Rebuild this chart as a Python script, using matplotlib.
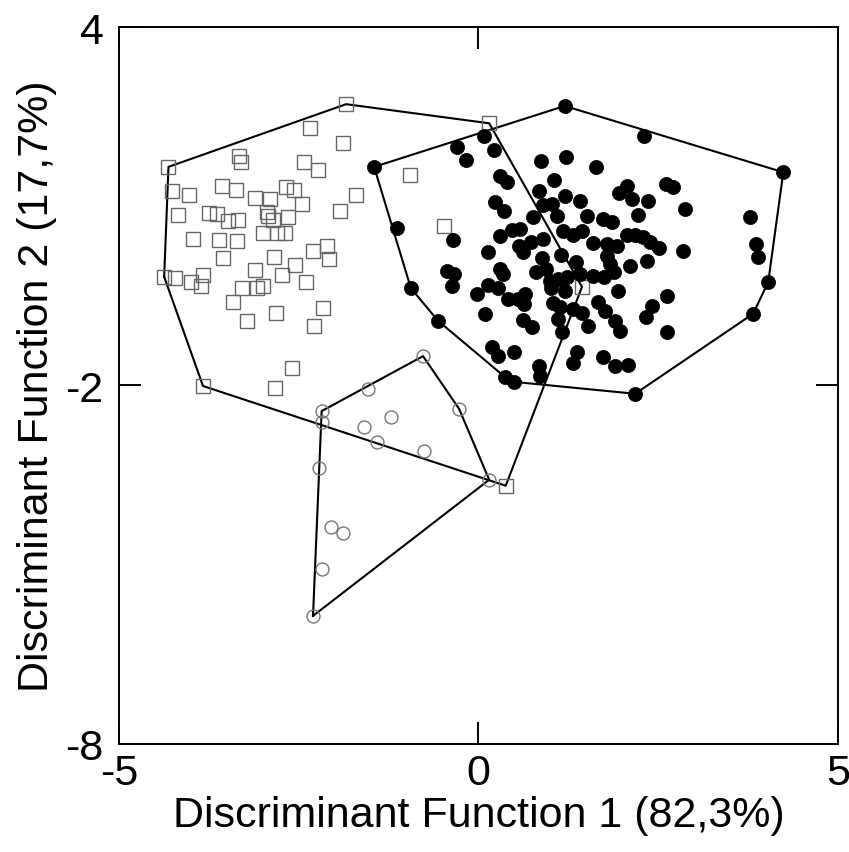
import matplotlib
matplotlib.use('Agg')
import matplotlib.pyplot as plt
import numpy as np

plt.rcParams['font.family'] = ['Liberation Sans', 'DejaVu Sans']
plt.rcParams['axes.unicode_minus'] = False

# Группа 1 - пустые квадраты (DF1, DF2)
sq_x = [-1.84, -2.34, -1.89, -4.31, -3.33, -3.30, -2.43, -2.23, -1.70, -4.26,
        -4.03, -3.57, -3.37, -3.10, -2.90, -2.68, -2.57, -2.46, -1.93, -4.18,
        -3.75, -3.64, -3.48, -3.35, -2.94, -2.93, -2.86, -2.65, -3.97, -3.61,
        -3.36, -3.00, -2.80, -2.69, -3.55, -2.84, -2.55, -2.30, -2.11, -2.08,
        -4.37, -4.22, -4.00, -3.83, -3.86, -3.11, -2.73, -3.29, -3.00, -3.08,
        -2.40, -3.41, -3.22, -2.82, -2.16, -2.29, -2.59, -2.83, -3.83, 0.15,
        -0.95, -0.48, 1.44, 0.38]
sq_y = [2.71, 2.31, 2.06, 1.66, 1.84, 1.74, 1.74, 1.61, 1.19, 1.26,
        1.19, 1.34, 1.27, 1.14, 1.12, 1.32, 1.27, 1.04, 0.92, 0.85,
        0.89, 0.87, 0.75, 0.77, 0.90, 0.84, 0.77, 0.82, 0.45, 0.44,
        0.42, 0.55, 0.55, 0.55, 0.13, 0.15, 0.02, 0.25, 0.34, 0.12,
        -0.18, -0.20, -0.27, -0.15, -0.34, -0.07, -0.15, -0.37, -0.34, -0.37,
        -0.27, -0.60, -0.92, -0.79, -0.70, -1.00, -1.71, -2.04, -2.01, 2.39,
        1.52, 0.67, -0.35, -3.68]

# Группа 2 - пустые кружки
oc_x = [-0.77, -1.54, -2.18, -2.18, -1.22, -1.59, -1.41, -0.27, -0.76, 0.15,
        -2.21, -2.05, -1.89, -2.18, -2.30]
oc_y = [-1.51, -2.06, -2.43, -2.61, -2.53, -2.70, -2.95, -2.39, -3.10, -3.58,
        -3.38, -4.37, -4.47, -5.07, -5.86]

# Группа 3 - закрашенные кружки
fc_x = [-1.45, 1.20, 2.30, 4.24, 4.03, 3.82, 2.18, 0.49, 0.37, -0.56,
        -0.94, -1.13, -0.30, -0.17, 0.08, 0.22, 0.30, 0.40, 0.87, 1.22,
        1.63, 1.05, 0.84, 0.23, 0.36, 0.76, 0.90, 1.02, 1.09, 1.20,
        1.41, 1.18, 1.51, 1.73, 1.86, 2.07, 1.95, 2.14, 2.36, 2.61,
        2.71, 2.87, 2.22, 2.07, 2.18, 2.29, 2.39, 2.51, 2.84, 0.47,
        0.58, 0.56, 0.73, 0.90, 0.88, 1.15, 0.13, 0.30, -0.36, 1.31,
        1.44, 1.59, 1.79, 1.93, 1.79, 2.11, 2.34, 1.36, 1.23, 1.41,
        1.59, 1.75, 1.89, 1.83, 0.80, 0.94, 0.99, 1.01, 1.11, 1.20,
        1.04, 1.13, 1.11, 1.16, 1.31, 1.44, 1.52, 1.66, 1.76, 1.90,
        1.97, 1.94, 2.41, 2.62, 2.33, 2.62, 1.37, 1.31, 1.73, 1.90,
        2.08, -0.44, -0.34, -0.37, -0.02, 0.13, 0.27, 0.30, 0.34, 0.41,
        0.55, 0.65, 0.63, 0.09, 0.62, 0.74, 0.19, 0.27, 0.49, 0.84,
        0.86, 3.78, 3.86, 3.89, 0.62]
fc_y = [1.66, 2.68, 2.18, 1.57, -0.27, -0.80, -2.14, -1.94, -1.86, -0.92,
        -0.37, 0.64, 1.99, 1.77, 2.18, 1.94, 1.51, 1.41, 1.76, 1.82,
        1.66, 1.44, 1.26, 1.07, 0.92, 0.82, 1.02, 1.04, 0.84, 1.17,
        1.09, 0.59, 0.84, 0.79, 0.74, 1.34, 1.22, 1.12, 1.09, 1.37,
        1.32, 0.95, 0.85, 0.52, 0.52, 0.49, 0.40, 0.30, 0.25, 0.60,
        0.62, 0.34, 0.40, 0.45, 0.13, 0.18, 0.23, 0.50, 0.44, 0.52,
        0.59, 0.39, 0.37, 0.34, 0.17, 0.00, 0.08, 0.07, -0.18, -0.13,
        -0.17, -0.18, -0.10, 0.03, -0.10, -0.05, -0.25, -0.37, -0.22, -0.42,
        -0.62, -0.69, -0.89, -1.11, -0.72, -0.79, -1.00, -0.60, -0.75, -0.92,
        -1.09, -0.42, -0.67, -0.50, -0.85, -1.11, -1.44, -1.62, -1.52, -1.67,
        -1.66, -0.08, -0.13, -0.34, -0.47, -0.32, -0.37, -0.05, -0.13, -0.55,
        -0.55, -0.47, -0.64, -0.80, -0.90, -1.02, -1.36, -1.51, -1.44, -1.67,
        -1.84, 0.82, 0.37, 0.15, 0.23]

x_ticks = [-5, 0, 5]
y_ticks = [4, -2, -8]


def hull(xs, ys):
    # выпуклая оболочка (monotone chain)
    pts = sorted(set(zip(xs, ys)))

    def cross(o, a, b):
        return (a[0] - o[0]) * (b[1] - o[1]) - (a[1] - o[1]) * (b[0] - o[0])

    lower, upper = [], []
    for p in pts:
        while len(lower) >= 2 and cross(lower[-2], lower[-1], p) <= 0:
            lower.pop()
        lower.append(p)
    for p in reversed(pts):
        while len(upper) >= 2 and cross(upper[-2], upper[-1], p) <= 0:
            upper.pop()
        upper.append(p)
    h = lower[:-1] + upper[:-1]
    h.append(h[0])
    return np.array(h)


fig = plt.figure(figsize=(8.49, 8.53), dpi=100)
ax = fig.add_axes([0.140, 0.127, 0.847, 0.840])

for gx, gy in [(sq_x, sq_y), (oc_x, oc_y), (fc_x, fc_y)]:
    h = hull(gx, gy)
    ax.plot(h[:, 0], h[:, 1], color='black', lw=1.5, zorder=1)

ax.plot(sq_x, sq_y, 's', ms=10.5, mfc='none', mec='#666666', mew=1.0, zorder=2)
ax.plot(oc_x, oc_y, 'o', ms=9.3, mfc='none', mec='#777777', mew=1.0, zorder=2)
ax.plot(fc_x, fc_y, 'o', ms=10.2, mfc='black', mec='black', mew=0.5, zorder=3)

ax.set_xlim(-5, 5)
ax.set_ylim(-8, 4)
ax.set_xticks(x_ticks)
ax.set_yticks(y_ticks)
ax.tick_params(direction='in', length=16, width=1.4, labelsize=31,
               top=True, right=True, pad=7)
ax.tick_params(axis='y', pad=11)
for s in ax.spines.values():
    s.set_linewidth(1.4)

ax.set_xlabel('Discriminant Function 1 (82,3%)', fontsize=31, labelpad=1)
ax.set_ylabel('Discriminant Function 2 (17,7%)', fontsize=31, labelpad=6)

plt.savefig('out.png', dpi=100)
